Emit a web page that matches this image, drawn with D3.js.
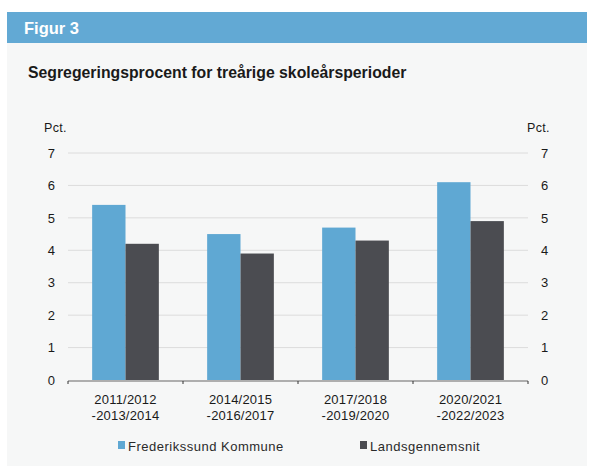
<!DOCTYPE html>
<html><head><meta charset="utf-8">
<script src="https://cdn.jsdelivr.net/npm/d3@7"></script>
<style>body{margin:0;background:#fff;font-family:"Liberation Sans",Arial,sans-serif;}</style>
</head><body><div id="chart"></div>
<script>
const categories = [["2011/2012","-2013/2014"],["2014/2015","-2016/2017"],["2017/2018","-2019/2020"],["2020/2021","-2022/2023"]];
const seriesNames = ["Frederikssund Kommune","Landsgennemsnit"];
const frederikssund = [5.4, 4.5, 4.7, 6.1];
const landsgennemsnit = [4.2, 3.9, 4.3, 4.9];
const yTicks = [0,1,2,3,4,5,6,7];
const colors = ["#5fa8d3","#4b4c51"];

(function(){
const W=590,H=466;
const svg=d3.select("#chart").append("svg").attr("width",W).attr("height",H);
svg.append("rect").attr("x",7).attr("y",43).attr("width",580).attr("height",H-43).attr("fill","#f6f7f7");
svg.append("rect").attr("x",7).attr("y",12).attr("width",580).attr("height",31).attr("fill","#62a9d4");
svg.append("text").attr("x",24).attr("y",34).attr("fill","#fff").attr("font-size",16.5).attr("font-weight","bold").text("Figur 3");
svg.append("text").attr("x",28).attr("y",78).attr("fill","#1a1a1a").attr("font-size",15.8).attr("font-weight","bold").text("Segregeringsprocent for treårige skoleårsperioder");

const pL=68,pR=528,pT=153,pB=380;
const x0=d3.scaleBand().domain(d3.range(categories.length)).range([pL,pR]).paddingInner(0.42).paddingOuter(0.21);
const x1=d3.scaleBand().domain([0,1]).range([0,x0.bandwidth()]);
const y=d3.scaleLinear().domain([0,7]).range([pB,pT]);

svg.append("g").selectAll("line").data(yTicks.filter(d=>d>0)).join("line")
 .attr("x1",pL).attr("x2",pR).attr("y1",d=>y(d)).attr("y2",d=>y(d)).attr("stroke","#dcdcdc").attr("stroke-width",1);

const fmt=d3.format("d");
const yl=d3.axisLeft(y).tickValues(yTicks).tickFormat(fmt).tickSize(0).tickPadding(13);
const yr=d3.axisRight(y).tickValues(yTicks).tickFormat(fmt).tickSize(0).tickPadding(13);
[[yl,pL],[yr,pR]].forEach(([ax,xp])=>{
  const a=svg.append("g").attr("transform",`translate(${xp},0)`).call(ax);
  a.select(".domain").remove();
  a.selectAll("text").attr("font-size",13).attr("fill","#1a1a1a").attr("font-family","Liberation Sans, Arial, sans-serif");
});
svg.append("text").attr("x",44).attr("y",132).attr("font-size",12.5).attr("letter-spacing",0.3).attr("fill","#1a1a1a").text("Pct.");
svg.append("text").attr("x",527).attr("y",132).attr("font-size",12.5).attr("letter-spacing",0.3).attr("fill","#1a1a1a").text("Pct.");

const data=categories.map((c,i)=>[frederikssund[i],landsgennemsnit[i]]);
const grp=svg.append("g").selectAll("g").data(data).join("g").attr("transform",(d,i)=>`translate(${x0(i)},0)`);
grp.selectAll("rect").data(d=>d).join("rect")
 .attr("x",(d,j)=>x1(j)).attr("width",x1.bandwidth()).attr("y",d=>y(d)).attr("height",d=>pB-y(d)).attr("fill",(d,j)=>colors[j]);

const xa=svg.append("g");
xa.append("line").attr("x1",pL).attr("x2",pR).attr("y1",pB+1).attr("y2",pB+1).attr("stroke","#666").attr("stroke-width",1.2);
const tickXs=d3.range(categories.length+1).map(i=>pL+i*(pR-pL)/categories.length);
xa.selectAll("line.t").data(tickXs).join("line").attr("class","t").attr("x1",d=>d).attr("x2",d=>d).attr("y1",pB+1).attr("y2",pB+4).attr("stroke","#333");
const lab=xa.selectAll("text").data(categories).join("text").attr("text-anchor","middle").attr("font-size",13).attr("letter-spacing",0.2).attr("fill","#1a1a1a")
 .attr("transform",(d,i)=>`translate(${x0(i)+x0.bandwidth()/2},0)`);
lab.append("tspan").attr("x",0).attr("y",404).text(d=>d[0]);
lab.append("tspan").attr("x",0).attr("y",420).text(d=>d[1]);

const legX=[118,360];
seriesNames.forEach((n,i)=>{
  svg.append("rect").attr("x",legX[i]).attr("y",441).attr("width",7).attr("height",8).attr("fill",colors[i]);
  svg.append("text").attr("x",legX[i]+10).attr("y",451).attr("font-size",13).attr("letter-spacing",0.5).attr("fill","#2a2a2a").text(n);
});
})();
</script></body></html>
